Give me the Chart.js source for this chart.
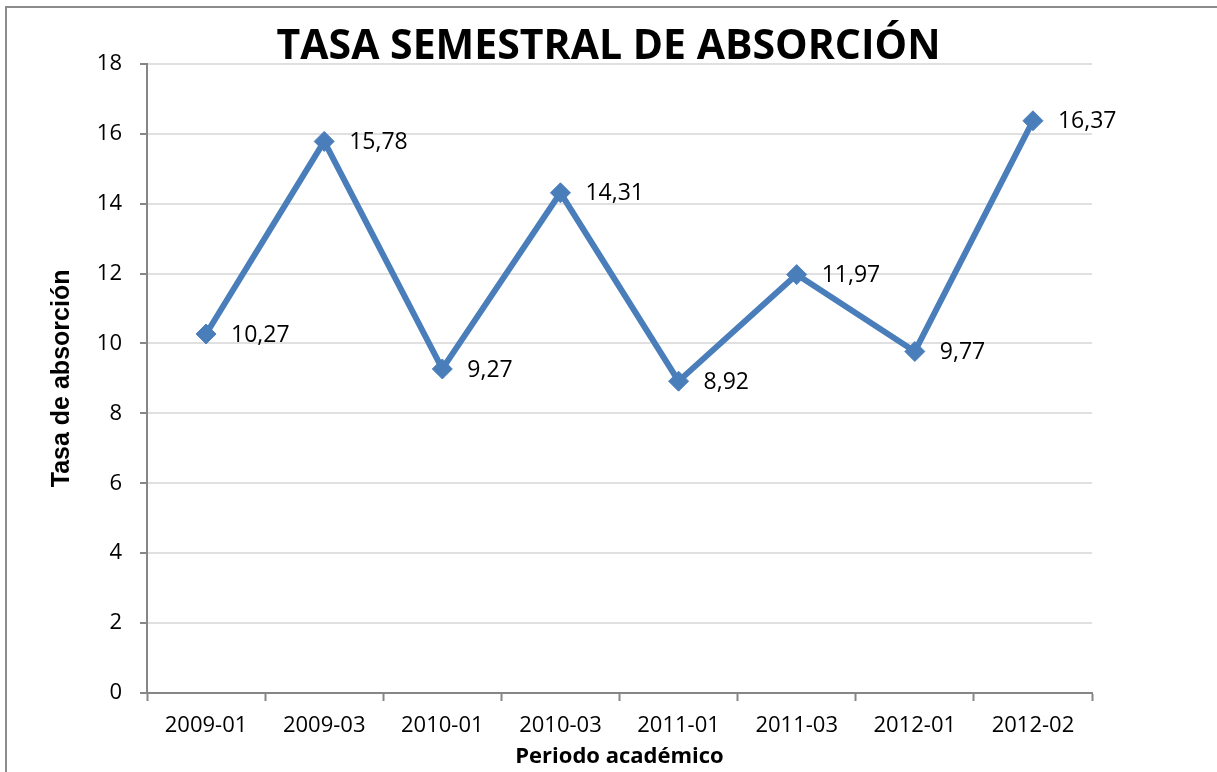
<!DOCTYPE html>
<html>
<head>
<meta charset="utf-8">
<script src="https://cdn.jsdelivr.net/npm/chart.js@4"></script>
<style>
  html,body{margin:0;padding:0;background:#fff;overflow:hidden;}
  #wrap{position:relative;width:1217px;height:772px;}
  #frame{position:absolute;left:5px;top:6px;width:1400px;height:1000px;border-left:2px solid #8c8c8c;border-top:2px solid #8c8c8c;}
  canvas{position:absolute;left:0;top:0;}
</style>
</head>
<body>
<div id="wrap">
  <div id="frame"></div>
  <canvas id="c" width="1217" height="772"></canvas>
</div>
<script>
const categories = ["2009-01","2009-03","2010-01","2010-03","2011-01","2011-03","2012-01","2012-02"];
const tasaAbsorcion = [10.27, 15.78, 9.27, 14.31, 8.92, 11.97, 9.77, 16.37];
const yTicks = [0, 2, 4, 6, 8, 10, 12, 14, 16, 18];
const chartTitle = "TASA SEMESTRAL DE ABSORCIÓN";
const yTitle = "Tasa de absorción";
const xTitle = "Periodo académico";

const blue = "#4A7EBB";
const axisGray = "#868686";
const gridGray = "#e0e0e0";

const labelPlugin = {
  id: 'pointLabels',
  afterDatasetsDraw(chart) {
    const ctx = chart.ctx;
    const meta = chart.getDatasetMeta(0);
    ctx.save();
    ctx.font = "23px 'Open Sans'";
    ctx.fillStyle = "#000";
    ctx.textAlign = "left";
    ctx.textBaseline = "middle";
    meta.data.forEach((pt, i) => {
      const v = chart.data.datasets[0].data[i];
      ctx.fillText(v.toFixed(2).replace('.', ','), pt.x + 25, pt.y + 1);
    });
    ctx.restore();
  }
};

new Chart(document.getElementById('c'), {
  type: 'line',
  data: {
    labels: categories,
    datasets: [{
      data: tasaAbsorcion,
      borderColor: blue,
      backgroundColor: blue,
      borderWidth: 6,
      pointStyle: 'rectRot',
      pointRadius: 10,
      pointHoverRadius: 10,
      pointBorderWidth: 1,
      pointBackgroundColor: blue,
      pointBorderColor: blue,
      tension: 0
    }]
  },
  options: {
    responsive: false,
    animation: false,
    layout: { padding: { left: 0, right: 0, top: 0, bottom: 2 } },
    plugins: {
      legend: { display: false },
      tooltip: { enabled: false },
      title: {
        display: true,
        text: chartTitle,
        color: '#000',
        font: { family: "'Open Sans'", size: 41, weight: 'bold', lineHeight: 0.8 },
        padding: { top: 31, bottom: 0 }
      }
    },
    scales: {
      x: {
        type: 'category',
        offset: true,
        afterFit(scale) { scale.height = 77; },
        grid: {
          display: true,
          drawOnChartArea: false,
          offset: true,
          drawTicks: true,
          tickLength: 8,
          tickWidth: 2,
          tickColor: axisGray
        },
        border: { display: true, color: axisGray, width: 2 },
        ticks: {
          color: '#000',
          font: { family: "'Open Sans'", size: 22 },
          padding: 12,
          maxRotation: 0
        },
        title: {
          display: true,
          text: xTitle,
          color: '#000',
          font: { family: "'Open Sans'", size: 22, weight: 'bold', lineHeight: 1.2 },
          padding: { top: 0, bottom: 0 }
        }
      },
      y: {
        min: 0,
        max: 18,
        afterFit(scale) { scale.width = 147; },
        afterBuildTicks(scale) { scale.ticks = yTicks.map(v => ({ value: v })); },
        grid: {
          color: gridGray,
          lineWidth: 2,
          drawTicks: true,
          tickLength: 7,
          tickWidth: 2,
          tickColor: axisGray
        },
        border: { display: true, color: axisGray, width: 2 },
        ticks: {
          color: '#000',
          font: { family: "'Open Sans'", size: 22 },
          padding: 18
        },
        title: {
          display: true,
          text: yTitle,
          color: '#000',
          font: { family: "'Liberation Sans'", size: 25, weight: 'bold', lineHeight: 1.2 },
          padding: { top: 47, bottom: 0 }
        }
      },
      yRight: {
        position: 'right',
        display: true,
        afterFit(scale) { scale.width = 125; },
        grid: { display: false, drawTicks: false },
        border: { display: false },
        ticks: { display: false }
      }
    }
  },
  plugins: [labelPlugin]
});
</script>
</body>
</html>
